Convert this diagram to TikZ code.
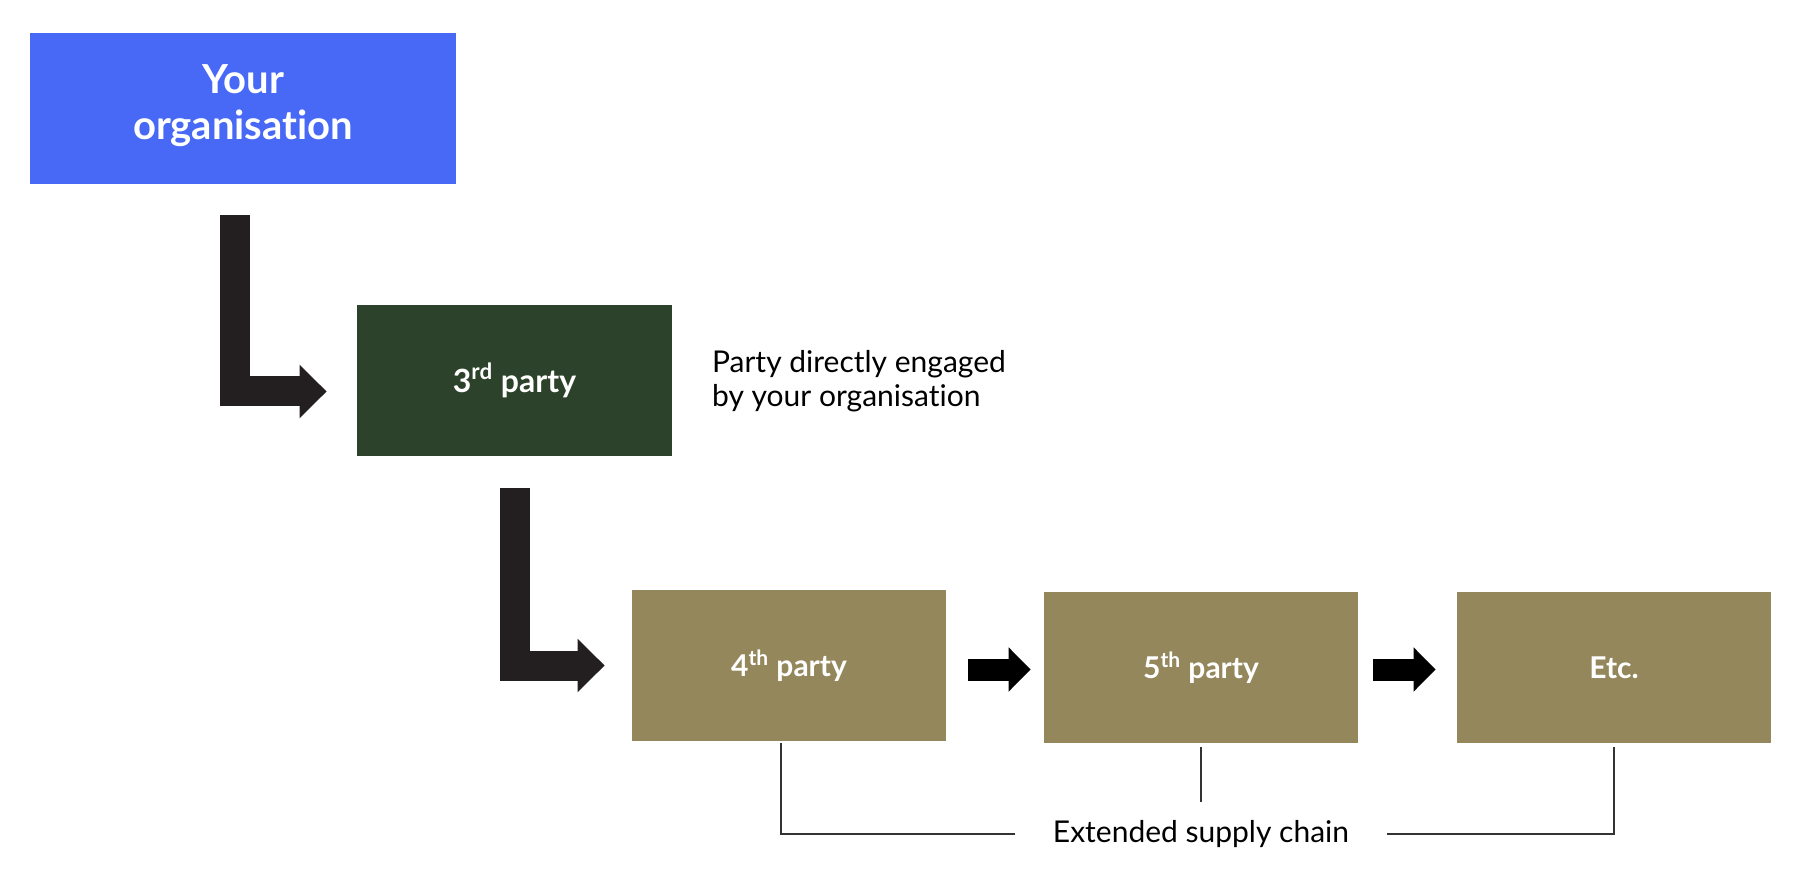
\documentclass[tikz,border=0pt]{standalone}
\usepackage{fontspec}
\setmainfont{Lato}[Ligatures=NoCommon]
\usepackage{xcolor}
\usepackage{tikz}
\usetikzlibrary{arrows.meta}

\definecolor{orgblue}{HTML}{4769F6}
\definecolor{thirdgreen}{HTML}{2D422A}
\definecolor{chainolive}{HTML}{95875C}
\definecolor{bendgray}{HTML}{231F20}

\begin{document}
\begin{tikzpicture}[x=0.5pt, y=-0.5pt,
    party/.style={rectangle, fill=#1, text=white, font=\bfseries, align=center,
        minimum width=157pt, minimum height=75.5pt, inner sep=0pt},
    bendarrow/.style={draw=bendgray, line width=15pt,
        -{Triangle[width=26pt, length=13.5pt]}, shorten >=#1},
    steparrow/.style={draw=black, line width=11pt,
        -{Triangle[width=21.5pt, length=11pt]}},
    bracket/.style={draw=black!80, line width=0.6pt}]
    \useasboundingbox (0,0) rectangle (1804,892);

    % Your organisation
    \node[party=orgblue, minimum width=213pt, font=\bfseries\fontsize{20}{23}\selectfont]
        (org) at (243,108.5) {Your\\organisation\vphantom{p}\vspace{3pt}};

    % 3rd party
    \node[party=thirdgreen, minimum width=157.5pt, font=\bfseries\fontsize{16}{19}\selectfont]
        (third) at (514.5,380.5) {3\textsuperscript{rd} party};
    \node[anchor=west, align=left, font=\fontsize{15}{17}\selectfont]
        (note) at (705,381) {Party directly engaged\\by your organisation};

    % 4th, 5th and further parties
    \node[party=chainolive, font=\bfseries\fontsize{15}{18}\selectfont]
        (fourth) at (789,665.5) {4\textsuperscript{th} party};
    \node[party=chainolive, font=\bfseries\fontsize{15}{18}\selectfont]
        (fifth) at (1201,667.5) {5\textsuperscript{th} party};
    \node[party=chainolive, font=\bfseries\fontsize{15}{18}\selectfont]
        (etc) at (1614,667.5) {Etc.};

    % Extended supply chain
    \node[inner xsep=19pt, inner ysep=9pt, font=\fontsize{15}{17}\selectfont]
        (chain) at (1201,834) {Extended supply chain};

    % Connections
    \draw[bendarrow=15pt] ([xshift=-4pt, yshift=-15.5pt]org.south) |- ([yshift=-5.5pt]third.west);
    \draw[bendarrow=13.5pt] ([yshift=-16pt]third.south) |- (fourth.west);
    \draw[steparrow, shorten <=11pt, shorten >=6.5pt]
        ([yshift=-2pt]fourth.east) -- ([yshift=-2pt]fourth.east -| fifth.west);
    \draw[steparrow, shorten <=7.5pt, shorten >=10.5pt]
        ([yshift=-1pt]fifth.east) -- ([yshift=-1pt]fifth.east -| etc.west);

    % Bracket
    \draw[bracket] ([xshift=-4pt, yshift=-1pt]fourth.south) |- (chain.west);
    \draw[bracket] ([yshift=-2pt]fifth.south) -- (chain.north);
    \draw[bracket] ([yshift=-2pt]etc.south) |- (chain.east);
\end{tikzpicture}
\end{document}
